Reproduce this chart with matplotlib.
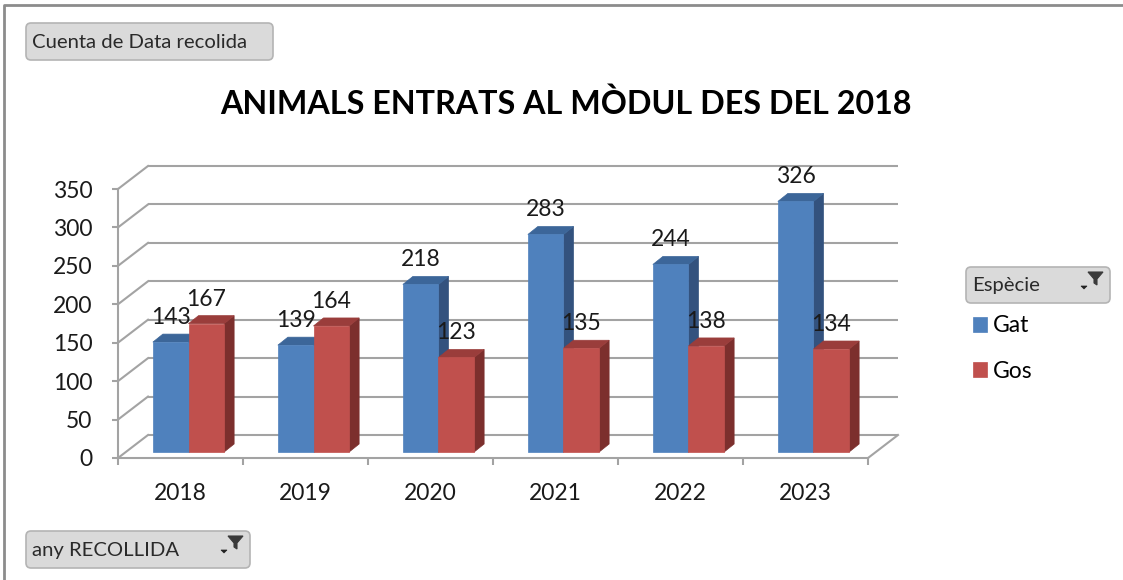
"""Excel-style 3D column chart: animals entering the module since 2018 (Gat / Gos per year)."""

import matplotlib

matplotlib.use("Agg")
import matplotlib.pyplot as plt
import numpy as np
from matplotlib.lines import Line2D
from matplotlib.patches import FancyBboxPatch, Polygon
from matplotlib.transforms import IdentityTransform, offset_copy

years = ["2018", "2019", "2020", "2021", "2022", "2023"]
gat = [143, 139, 218, 283, 244, 326]
gos = [167, 164, 123, 135, 138, 134]
series_names = ["Gat", "Gos"]
y_ticks = [0, 50, 100, 150, 200, 250, 300, 350]
title = "ANIMALS ENTRATS AL MÒDUL DES DEL 2018"

W, H, DPI = 1123, 580, 100
GRID = "#a3a3a3"
TXT = "#1a1a1a"
FS = 16.5
# front / side / top shades of each series (Excel 3D look)
SHADES = {
    "Gat": ("#4f81bd", "#33527e", "#3c6699"),
    "Gos": ("#c0504d", "#7c2f2d", "#9a3d3b"),
}
WALL = (30, 23)   # depth of the back wall, in pixels
FRONT = (8, 6)    # bars' front face depth
BACK = (18, 14)   # bars' back face depth
BAR_W = 0.285

plt.rcParams["font.family"] = ["Lato", "DejaVu Sans"]

fig = plt.figure(figsize=(W / DPI, H / DPI), dpi=DPI)
fig.patch.set_facecolor("white")

# pixel overlay for frame, pivot buttons and title
bg = fig.add_axes([0, 0, 1, 1], zorder=0)
bg.set_xlim(0, W)
bg.set_ylim(H, 0)
bg.axis("off")
bg.plot([4, 4, W], [H, 5, 5], color="#8c8c8c", lw=2, solid_capstyle="butt")

ax = fig.add_axes([118 / W, 1 - 458 / H, 750 / W, 269 / H], zorder=1)
ax.patch.set_visible(False)
x = np.arange(len(years))
ax.set_xlim(-0.5, len(years) - 0.5)
ax.set_ylim(0, 350)


def depth(d):
    return offset_copy(ax.transData, fig=fig, x=d[0], y=d[1], units="dots")


def to_px(xv, yv, d):
    px, py = ax.transData.transform((xv, yv))
    return px + d[0], py + d[1]


# back wall gridlines + side wall diagonals + floor right edge
ax.hlines(y_ticks, -0.5, len(years) - 0.5, colors=GRID, lw=1.5,
          transform=depth(WALL), clip_on=False, zorder=1)
for v in y_ticks:
    p0 = to_px(-0.5, v, (0, 0))
    p1 = to_px(-0.5, v, WALL)
    ax.add_line(Line2D([p0[0], p1[0]], [p0[1], p1[1]], color=GRID, lw=1.5,
                       transform=IdentityTransform(), clip_on=False, zorder=1))
p0 = to_px(len(years) - 0.5, 0, (0, 0))
p1 = to_px(len(years) - 0.5, 0, WALL)
ax.add_line(Line2D([p0[0], p1[0]], [p0[1], p1[1]], color=GRID, lw=1.5,
                   transform=IdentityTransform(), clip_on=False, zorder=1))

handles = []
for k, (name, vals, shift) in enumerate([("Gat", gat, -BAR_W / 2), ("Gos", gos, BAR_W / 2)]):
    front, side, top = SHADES[name]
    z = 2 + k * 0.2
    for xi, v in zip(x, vals):
        xl, xr = xi + shift - BAR_W / 2, xi + shift + BAR_W / 2
        side_pts = [to_px(xr, 0, FRONT), to_px(xr, v, FRONT), to_px(xr, v, BACK), to_px(xr, 0, BACK)]
        top_pts = [to_px(xl, v, FRONT), to_px(xr, v, FRONT), to_px(xr, v, BACK), to_px(xl, v, BACK)]
        for pts, col in ((side_pts, side), (top_pts, top)):
            ax.add_patch(Polygon(pts, closed=True, facecolor=col, edgecolor=col, lw=0.5,
                                 transform=IdentityTransform(), clip_on=False, zorder=z))
    bars = ax.bar(x + shift, vals, width=BAR_W, color=front, edgecolor=front, lw=0.5,
                  transform=depth(FRONT), clip_on=False, zorder=z + 0.1, label=name)
    handles.append(bars)
    for xi, v in zip(x, vals):
        ax.annotate(str(v), xy=(xi + shift, v), xycoords=depth(FRONT),
                    xytext=(0, 18), textcoords="offset pixels", ha="center", va="baseline",
                    fontsize=FS, color=TXT, zorder=5, annotation_clip=False)

for s in ("top", "right"):
    ax.spines[s].set_visible(False)
for s in ("left", "bottom"):
    ax.spines[s].set_color(GRID)
    ax.spines[s].set_linewidth(1.5)

ax.set_yticks(y_ticks)
ax.set_yticklabels([str(v) for v in y_ticks], fontsize=FS, color=TXT)
ax.tick_params(axis="y", length=4.5, width=1.5, color=GRID, pad=14)
ax.set_xticks(x)
ax.set_xticklabels(years, fontsize=FS, color=TXT)
ax.set_xticks(np.arange(-0.5, len(years)), minor=True)
ax.tick_params(axis="x", which="major", length=0, pad=18)
ax.tick_params(axis="x", which="minor", length=5, width=1.5, color=GRID)

fig.text(566 / W, 1 - 104 / H, title, ha="center", va="center",
         fontsize=23.2, fontweight="bold", color="black")


def button(x0, y0, x1, y1, label, funnel=False):
    bg.add_patch(FancyBboxPatch((x0, y0), x1 - x0, y1 - y0,
                                boxstyle="round,pad=0,rounding_size=5",
                                facecolor="#dadada", edgecolor="#b4b4b4", lw=1.2))
    bg.text(x0 + 6, (y0 + y1) / 2 + 1, label, ha="left", va="center",
            fontsize=14.6, color="#2a2a2a")
    if funnel:
        fx, fy = x1 - 22, y0 + 5
        bg.add_patch(Polygon([(fx, fy), (fx + 15, fy), (fx + 9, fy + 7), (fx + 9, fy + 13),
                              (fx + 6, fy + 11), (fx + 6, fy + 7)],
                             closed=True, facecolor="#3a3a3a", edgecolor="#3a3a3a", lw=0.8))
        bg.add_patch(Polygon([(fx - 7, fy + 14), (fx - 1, fy + 14), (fx - 4, fy + 17)],
                             closed=True, facecolor="#222222", edgecolor="#222222", lw=0.5))


button(26, 23, 273, 60, "Cuenta de Data recolida")
button(26, 531, 250, 568, "any RECOLLIDA", funnel=True)
button(966, 267, 1110, 303, "Espècie", funnel=True)

fig.legend(handles=handles, labels=series_names, loc="upper left",
           bbox_to_anchor=(973 / W, 1 - 315.5 / H), frameon=False, fontsize=FS,
           handlelength=0.62, handleheight=0.62, handletextpad=0.25,
           labelspacing=1.05, borderpad=0, borderaxespad=0)

fig.savefig("out.png", dpi=DPI)
plt.close(fig)
